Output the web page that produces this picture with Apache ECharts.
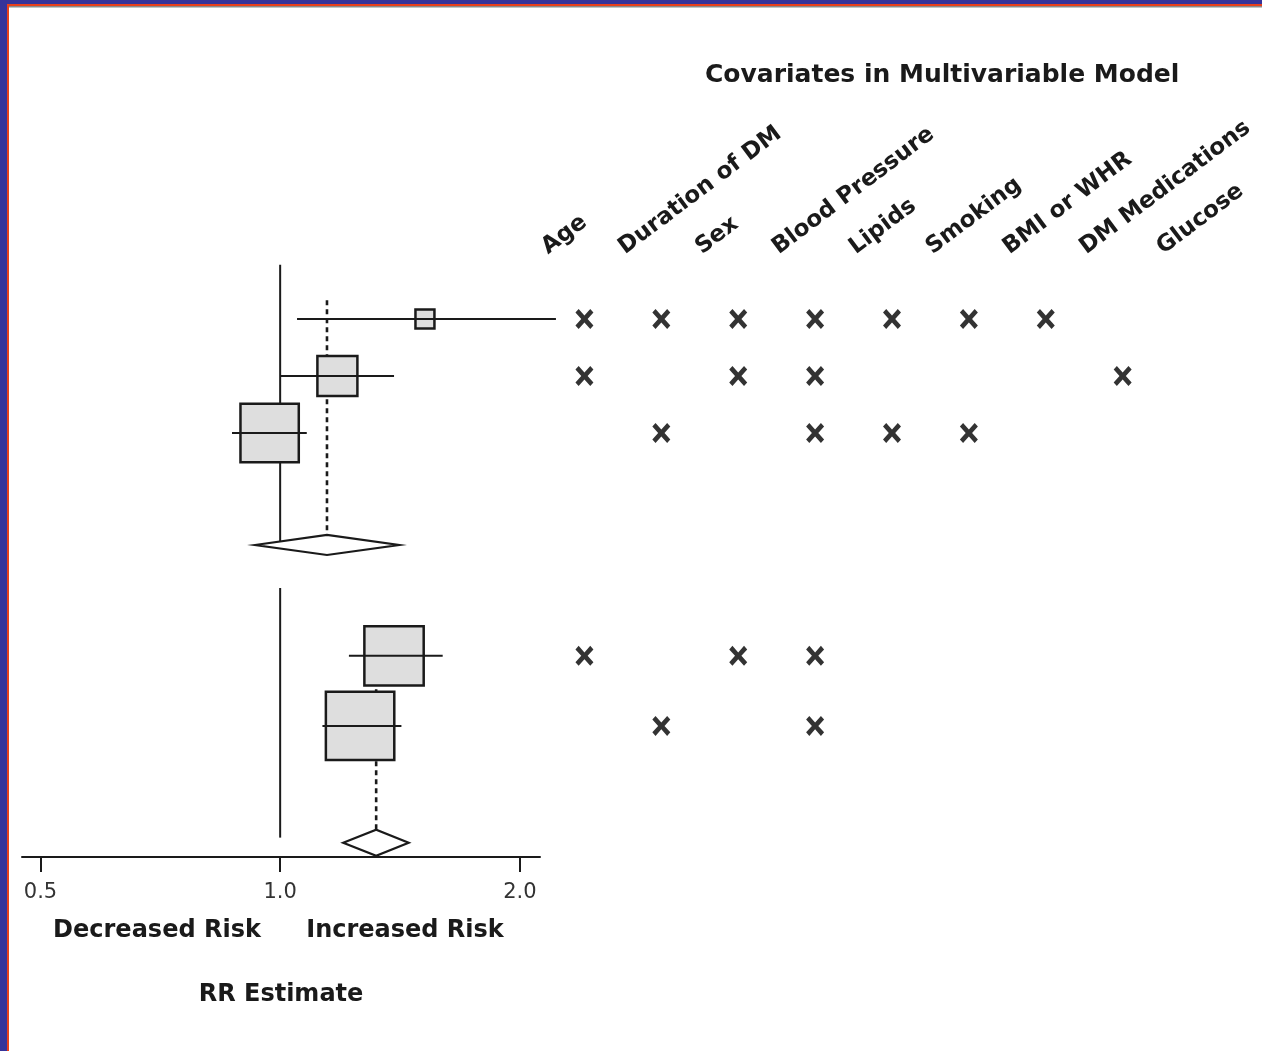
<!DOCTYPE html>
<html><head><meta charset="utf-8">
<script src="https://cdn.jsdelivr.net/npm/echarts@6/dist/echarts.min.js"></script>
<style>html,body{margin:0;padding:0;background:#fff}#c{width:1262px;height:1051px}</style>
</head><body><div id="c"></div>
<script>
// ---- data ----
const covariates = ['Age', 'Duration of DM', 'Sex', 'Blood Pressure', 'Lipids', 'Smoking', 'BMI or WHR', 'DM Medications', 'Glucose'];
const rowIndex = [0, 1, 2, 5.91, 7.14];
const rrEstimate = [1.52, 1.18, 0.97, 1.39, 1.26];
const ciLower = [1.05, 1.00, 0.87, 1.22, 1.13];
const ciUpper = [2.22, 1.39, 1.08, 1.60, 1.42];
const studyWeight = [0.9, 4.0, 8.5, 8.8, 11.7];
const modelCovariates = [
  ['Age', 'Duration of DM', 'Sex', 'Blood Pressure', 'Lipids', 'Smoking', 'BMI or WHR'],
  ['Age', 'Sex', 'Blood Pressure', 'DM Medications'],
  ['Duration of DM', 'Blood Pressure', 'Lipids', 'Smoking'],
  ['Age', 'Sex', 'Blood Pressure'],
  ['Duration of DM', 'Blood Pressure']
];
const pooledRow = [3.965, 9.19];
const pooledRR = [1.145, 1.32];
const pooledLower = [0.93, 1.20];
const pooledUpper = [1.41, 1.45];
const xTicks = [0.5, 1.0, 2.0];

// ---- layout ----
const refSpan = [[-0.95, 3.965], [4.72, 9.1]];
const pooledTop = [-0.33, 5.39];
const diamondHalf = [10, 13];
const FONT = 'DejaVu Sans';
const INK = '#1a1a1a';

const studyData = rowIndex.map((r, i) => [rrEstimate[i], ciLower[i], ciUpper[i], r, studyWeight[i]]);
const pooledData = pooledRow.map((r, i) => [pooledRR[i], pooledLower[i], pooledUpper[i], r, pooledTop[i], diamondHalf[i]]);
const markData = [];
modelCovariates.forEach((list, i) => list.forEach(c => markData.push([c, rowIndex[i]])));

const chart = echarts.init(document.getElementById('c'), null, {renderer: 'canvas'});
chart.setOption({
  backgroundColor: '#ffffff',
  animation: false,
  title: {
    text: 'Covariates in Multivariable Model', left: 700, top: 58,
    textStyle: {fontFamily: FONT, fontSize: 25, fontWeight: 'bold', color: INK}
  },
  grid: [
    {left: 22, right: 722, top: 262, bottom: 194},
    {left: 546, width: 692, top: 262, bottom: 194}
  ],
  xAxis: [
    {
      type: 'log', logBase: 2, min: 0.474, max: 2.12, gridIndex: 0,
      axisLine: {onZero: false, lineStyle: {color: INK, width: 2}},
      axisTick: {customValues: xTicks, length: 15, lineStyle: {color: INK, width: 2}},
      axisLabel: {customValues: xTicks, formatter: v => Number(v).toFixed(1), fontFamily: FONT, fontSize: 21, color: '#333', margin: 25},
      splitLine: {show: false}, minorTick: {show: false},
      name: 'RR Estimate', nameLocation: 'middle', nameGap: 126,
      nameTextStyle: {fontFamily: FONT, fontSize: 24, fontWeight: 'bold', color: INK}
    },
    {type: 'category', gridIndex: 1, data: covariates, show: false, boundaryGap: true}
  ],
  yAxis: [
    {type: 'value', gridIndex: 0, inverse: true, min: -1, max: 9.44, show: false},
    {type: 'value', gridIndex: 1, inverse: true, min: -1, max: 9.44, show: false}
  ],
  graphic: [
    {type: 'rect', shape: {x: 0, y: 0, width: 1262, height: 4}, style: {fill: '#35339a'}, z: 100},
    {type: 'rect', shape: {x: 0, y: 0, width: 7, height: 1051}, style: {fill: '#35339a'}, z: 100},
    {type: 'rect', shape: {x: 7, y: 4, width: 1255, height: 2}, style: {fill: '#e8401c'}, z: 100},
    {type: 'rect', shape: {x: 7, y: 4, width: 2, height: 1047}, style: {fill: '#e8401c'}, z: 100},
    {type: 'rect', shape: {x: 9, y: 6, width: 1253, height: 1.5}, style: {fill: '#8a8a8a'}, z: 100},
    {type: 'text', x: 157, y: 931, style: {text: 'Decreased Risk', fontFamily: FONT, fontSize: 24, fontWeight: 'bold', fill: INK, align: 'center', verticalAlign: 'middle'}},
    {type: 'text', x: 405, y: 931, style: {text: 'Increased Risk', fontFamily: FONT, fontSize: 24, fontWeight: 'bold', fill: INK, align: 'center', verticalAlign: 'middle'}}
  ],
  series: [
    {
      type: 'custom', name: 'reference', xAxisIndex: 0, yAxisIndex: 0, silent: true,
      data: refSpan.map(s => [1, s[0], s[1]]),
      encode: {x: 0, y: [1, 2]},
      renderItem: (params, api) => {
        const a = api.coord([api.value(0), api.value(1)]);
        const b = api.coord([api.value(0), api.value(2)]);
        return {type: 'line', shape: {x1: a[0], y1: a[1], x2: b[0], y2: b[1]}, style: {stroke: INK, lineWidth: 2}};
      }
    },
    {
      type: 'custom', name: 'pooled', xAxisIndex: 0, yAxisIndex: 0, silent: true,
      data: pooledData, encode: {x: [0, 1, 2], y: [3, 4]},
      renderItem: (params, api) => {
        const c = api.coord([api.value(0), api.value(3)]);
        const l = api.coord([api.value(1), api.value(3)]);
        const u = api.coord([api.value(2), api.value(3)]);
        const t = api.coord([api.value(0), api.value(4)]);
        const h = api.value(5);
        return {type: 'group', children: [
          {type: 'line', shape: {x1: t[0], y1: t[1], x2: c[0], y2: c[1] - h}, style: {stroke: INK, lineWidth: 2.6, lineDash: [5, 4]}},
          {type: 'polygon', shape: {points: [[l[0], c[1]], [c[0], c[1] - h], [u[0], c[1]], [c[0], c[1] + h]]}, style: {fill: '#fff', stroke: INK, lineWidth: 2.2}}
        ]};
      }
    },
    {
      type: 'custom', name: 'studies', xAxisIndex: 0, yAxisIndex: 0, silent: true,
      data: studyData, encode: {x: [0, 1, 2], y: 3},
      renderItem: (params, api) => {
        const c = api.coord([api.value(0), api.value(3)]);
        const l = api.coord([api.value(1), api.value(3)]);
        const u = api.coord([api.value(2), api.value(3)]);
        const s = 20 * Math.sqrt(api.value(4));
        return {type: 'group', children: [
          {type: 'rect', shape: {x: c[0] - s / 2, y: c[1] - s / 2, width: s, height: s}, style: {fill: '#dedede', stroke: INK, lineWidth: 2.5}},
          {type: 'line', shape: {x1: l[0], y1: c[1], x2: u[0], y2: c[1]}, style: {stroke: INK, lineWidth: 2}}
        ]};
      }
    },
    {
      type: 'custom', name: 'headers', xAxisIndex: 1, yAxisIndex: 1, silent: true,
      data: covariates.map(c => [c, -1]), encode: {x: 0, y: 1},
      renderItem: (params, api) => {
        const p = api.coord([api.value(0), api.value(1)]);
        return {type: 'text', x: p[0] - 33, y: p[1] - 3, rotation: 37 * Math.PI / 180,
          style: {text: covariates[params.dataIndex], fontFamily: FONT, fontSize: 23, fontWeight: 'bold', fill: INK, align: 'left', verticalAlign: 'bottom'}};
      }
    },
    {
      type: 'scatter', name: 'included', xAxisIndex: 1, yAxisIndex: 1, silent: true,
      data: markData,
      symbol: 'path://M0,3.6L3.2,0L9,6.6L14.8,0L18,3.6L12.2,10L18,16.4L14.8,20L9,13.4L3.2,20L0,16.4L5.8,10Z',
      symbolSize: [18, 20], itemStyle: {color: '#000'}
    }
  ]
});
</script></body></html>
